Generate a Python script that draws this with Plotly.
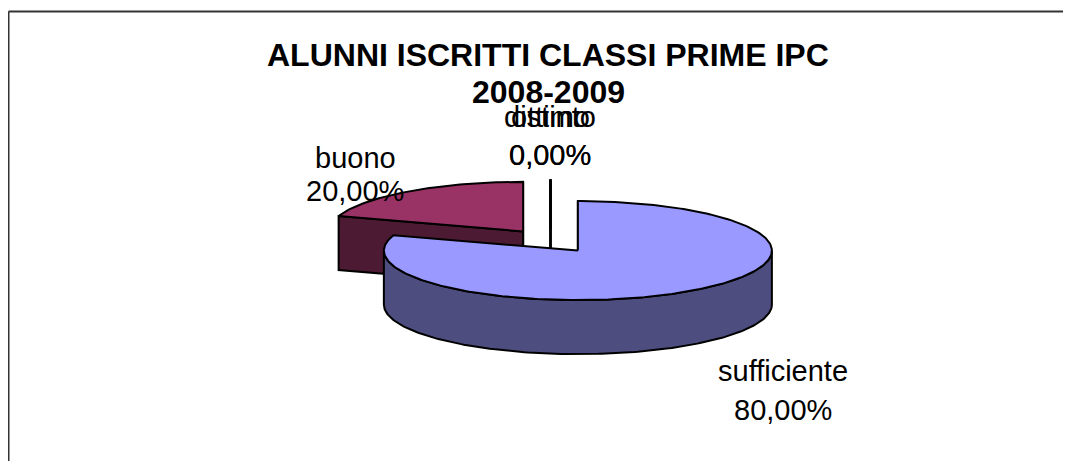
import numpy as np
import plotly.graph_objects as go

# ---------------- data ----------------
title_lines = ["ALUNNI ISCRITTI CLASSI PRIME IPC", "2008-2009"]
categories = ["sufficiente", "buono", "distinto", "ottimo"]
values = [80, 20, 0, 0]

# ---------------- styles ----------------
top_colors = ["#9999FF", "#993366", "#FFFFCC", "#CCFFFF"]
side_colors = ["#4D4D80", "#4D1A33", "#808066", "#668080"]

W, H = 1071, 469
PAGE_MARGIN = 8            # browser default body margin
CX, CY = 550.5, 241.0      # pie centre (screen pixels)
RX, RY = 194.0, 49.5       # ellipse radii of the tilted pie
DEPTH = 54.0               # thickness of the 3D pie
EXPLODE = 0.24             # explosion of every slice (fraction of radius)
LABEL_FONT = 29
TITLE_FONT = 32

# label anchor positions (layout, screen pixels)
label_pos = {
    "sufficiente": (783, 371, 410),
    "buono": (355, 158, 191),
    "distinto": (550, 117, 155),
    "ottimo": (550, 117, 155),
}


def rim(cx, cy, theta_deg, dy=0.0):
    t = np.radians(theta_deg)
    return cx + RX * np.sin(t), cy - RY * np.cos(t) + dy


def arc(cx, cy, a0, a1, dy=0.0):
    n = max(2, int(abs(a1 - a0)) + 1)
    th = np.linspace(a0, a1, n)
    xs, ys = rim(cx, cy, th, dy)
    return list(xs), list(ys)


total = float(sum(values))
cum = np.concatenate([[0], np.cumsum(values)]) / total * 360.0

slices = []
for i, cat in enumerate(categories):
    a0, a1 = cum[i], cum[i + 1]
    mid = np.radians((a0 + a1) / 2)
    cx = CX + EXPLODE * RX * np.sin(mid)
    cy = CY - EXPLODE * RY * np.cos(mid)
    slices.append(dict(i=i, a0=a0, a1=a1, cx=cx, cy=cy))

fig = go.Figure()


def poly(xs, ys, fill):
    fig.add_trace(go.Scatter(
        x=xs + [xs[0]], y=ys + [ys[0]], mode="lines", fill="toself",
        fillcolor=fill, line=dict(color="#000000", width=2),
        hoverinfo="skip", showlegend=False))


# paint back-to-front
for s in sorted(slices, key=lambda d: d["cy"]):
    i, a0, a1, cx, cy = s["i"], s["a0"], s["a1"], s["cx"], s["cy"]
    # radial cut faces
    for edge, normal in ((a0, a0 - 90), (a1, a1 + 90)):
        if -np.cos(np.radians(normal)) > -1e-6:
            rx_, ry_ = rim(cx, cy, edge)
            poly([cx, rx_, rx_, cx], [cy, ry_, ry_ + DEPTH, cy + DEPTH], side_colors[i])
    # outer front side
    lo, hi = max(a0, 90.0), min(a1, 270.0)
    if hi > lo:
        xt, yt = arc(cx, cy, lo, hi)
        xb, yb = arc(cx, cy, hi, lo, DEPTH)
        poly(xt + xb, yt + yb, side_colors[i])
    # top face
    xt, yt = arc(cx, cy, a0, a1)
    poly([cx] + xt, [cy] + yt, top_colors[i])

annotations = []
font = dict(family="Liberation Sans, Arial, sans-serif", color="#000000")
annotations.append(dict(x=548, y=55, text="<b>%s</b>" % title_lines[0], showarrow=False,
                        xref="x", yref="y", font=dict(size=TITLE_FONT, **font)))
annotations.append(dict(x=548, y=92, text="<b>%s</b>" % title_lines[1], showarrow=False,
                        xref="x", yref="y", font=dict(size=TITLE_FONT, **font)))
for cat, v in zip(categories, values):
    lx, ly1, ly2 = label_pos[cat]
    pct = ("%.2f%%" % (v / total * 100)).replace(".", ",")
    annotations.append(dict(x=lx, y=ly1, text=cat, showarrow=False, xref="x", yref="y",
                            font=dict(size=LABEL_FONT, **font)))
    annotations.append(dict(x=lx, y=ly2, text=pct, showarrow=False, xref="x", yref="y",
                            font=dict(size=LABEL_FONT, **font)))

FW, FH = W - 2 * PAGE_MARGIN, H - 2 * PAGE_MARGIN
frame = dict(color="#333333", width=2)
fig.update_layout(
    width=FW, height=FH, autosize=False,
    margin=dict(l=0, r=0, t=0, b=0),
    paper_bgcolor="#FFFFFF", plot_bgcolor="#FFFFFF",
    xaxis=dict(range=[PAGE_MARGIN, PAGE_MARGIN + FW], visible=False, fixedrange=True),
    yaxis=dict(range=[PAGE_MARGIN + FH, PAGE_MARGIN], visible=False, fixedrange=True),
    annotations=annotations,
    shapes=[
        dict(type="line", xref="x", yref="y", x0=8.5, y0=11.5, x1=8.5, y1=H + 20,
             line=frame, layer="below"),
        dict(type="line", xref="x", yref="y", x0=8.5, y0=11.5, x1=W + 20, y1=11.5,
             line=frame, layer="below"),
    ],
)

fig.write_html("out.html")
